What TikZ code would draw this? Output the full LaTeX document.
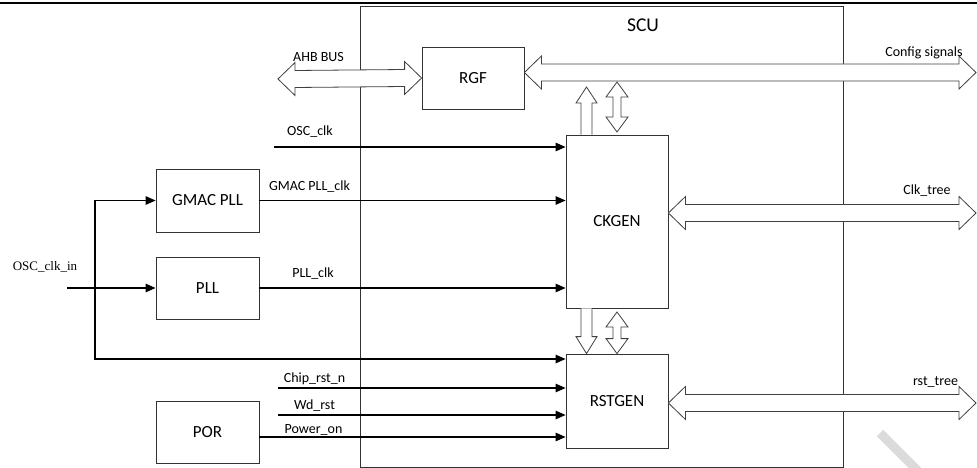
\documentclass[tikz,border=0pt]{standalone}
\usepackage{fontspec}
\setmainfont{Carlito}
\newfontfamily\tnrfont{Liberation Serif}
\usetikzlibrary{arrows.meta,calc}
\newcommand\hdbl[2]{\draw[fat] (#1) -- ++(17,-16.5) -- ++(0,8) -- ($(#2)+(-17,-8.5)$) -- ++(0,-8) -- (#2) -- ++(-17,16.5) -- ++(0,-8) -- ($(#1)+(17,8.5)$) -- ++(0,8) -- cycle;}
\newcommand\vdbl[2]{\draw[fat] (#1) -- ++(11,15) -- ++(-7,0) -- ($(#2)+(4,-15)$) -- ++(7,0) -- (#2) -- ++(-11,-15) -- ++(7,0) -- ($(#1)+(-4,15)$) -- ++(-7,0) -- cycle;}
\newcommand\vup[2]{\draw[fat] ($(#1)+(-5.5,0)$) -- ($(#2)+(-5.5,16)$) -- ++(-5,0) -- (#2) -- ++(10.5,16) -- ++(-5,0) -- ($(#1)+(5.5,0)$);}
\newcommand\vdown[2]{\draw[fat] ($(#1)+(-5.5,0)$) -- ($(#2)+(-5.5,-17)$) -- ++(-5,0) -- (#2) -- ++(10.5,-17) -- ++(-5,0) -- ($(#1)+(5.5,0)$);}
\begin{document}
\begin{tikzpicture}[x=1pt,y=-1pt,
  box/.style={draw=black!80, line width=0.8pt, inner sep=0pt, font=\fontsize{17}{19}\selectfont},
  fat/.style={draw=black!75, line width=0.8pt, fill=white, line join=miter},
  sig/.style={draw=black, line width=1.1pt, -{Triangle[length=10pt,width=8.5pt]}},
  plain/.style={draw=black, line width=1.1pt},
  lbl/.style={inner sep=0pt, font=\fontsize{14}{16}\selectfont}]
\useasboundingbox (0,0) rectangle (977,468);
% top rule
\draw[line width=2.5pt] (0,2.8) -- (977,2.8);
% SCU frame
\node[box, minimum width=483pt, minimum height=461pt] (scu) at (601.5,236.5) {};
\node[inner sep=0pt, font=\fontsize{19.5}{21}\selectfont] (scul) at (643,25) {SCU};
% blocks
\node[box, minimum width=102pt, minimum height=62pt] (rgf) at (473,78) {RGF};
\node[box, minimum width=102pt, minimum height=173pt] (ckgen) at (617,221.5) {CKGEN};
\node[box, minimum width=102pt, minimum height=94pt] (rstgen) at (617,401) {RSTGEN};
\node[box, minimum width=103pt, minimum height=63pt] (gmac) at (207.5,200.5) {GMAC PLL};
\node[box, minimum width=103pt, minimum height=62pt] (pll) at (207.5,288) {PLL};
\node[box, minimum width=103pt, minimum height=62pt] (por) at (207.5,432) {POR};
% free ends
\coordinate (ahb) at (278,79);
\coordinate (cfg) at (976,72.5);
\coordinate (clk) at (976,213);
\coordinate (rst) at (976,403);
\coordinate (oscs) at (274,147);
\coordinate (oscin) at (67,288);
\coordinate (vtop) at (95,200.5);
\coordinate (vbot) at (95,359);
\coordinate (chip) at (278,388);
\coordinate (wd) at (278,415);
\coordinate (pon) at (259,437);
\coordinate (uatip) at (586.5,87);
\coordinate (udtip) at (617,82);
\coordinate (udbot) at (617,132);
\coordinate (ldtop) at (617,312);
% signal lines
\draw[sig] (oscs) -- (ckgen.west |- oscs);
\draw[sig] (gmac.east) -- (ckgen.west |- gmac.east);
\draw[sig] (pll.east) -- (ckgen.west |- pll.east);
\draw[sig] (oscin) -- (pll.west);
\draw[sig] (vbot) -- (vtop) -- (gmac.west);
\draw[sig] (vtop) -- (vbot) -- (rstgen.west |- vbot);
\draw[sig] (chip) -- (rstgen.west |- chip);
\draw[sig] (wd) -- (rstgen.west |- wd);
\draw[plain] (por.east |- pon) -- (pon);
\draw[sig] (pon) -- (rstgen.west |- pon);
% wide buses
\hdbl{ahb}{rgf.west}
\hdbl{rgf.east |- cfg}{cfg}
\hdbl{ckgen.east |- clk}{clk}
\hdbl{rstgen.east |- rst}{rst}
\vup{uatip |- ckgen.north}{uatip}
\vdbl{udtip}{udbot}
\vdown{uatip |- ckgen.south}{uatip |- rstgen.north}
\vdbl{ldtop}{rstgen.north}
% labels
\node[lbl, anchor=west] (ahbl) at (293,57) {AHB BUS};
\node[lbl] (oscl) at (310,132) {OSC\_clk};
\node[lbl] (gmacl) at (309.5,187) {GMAC PLL\_clk};
\node[lbl] (plll) at (313,274) {PLL\_clk};
\node[inner sep=0pt, font=\tnrfont\fontsize{13}{15}\selectfont] (oscinl) at (45,267) {OSC\_clk\_in};
\node[lbl] (chipl) at (314.5,379) {Chip\_rst\_n};
\node[lbl] (wdl) at (314.5,406) {Wd\_rst};
\node[lbl] (ponl) at (313.5,430) {Power\_on};
\node[lbl] (cfgl) at (924,53) {Config signals};
\node[lbl] (clkl) at (927,191) {Clk\_tree};
\node[lbl] (rstl) at (935.5,382) {rst\_tree};
% watermark fragment
\draw[line width=9pt, color=black!14] (880,433) -- (935,488);
\end{tikzpicture}
\end{document}
